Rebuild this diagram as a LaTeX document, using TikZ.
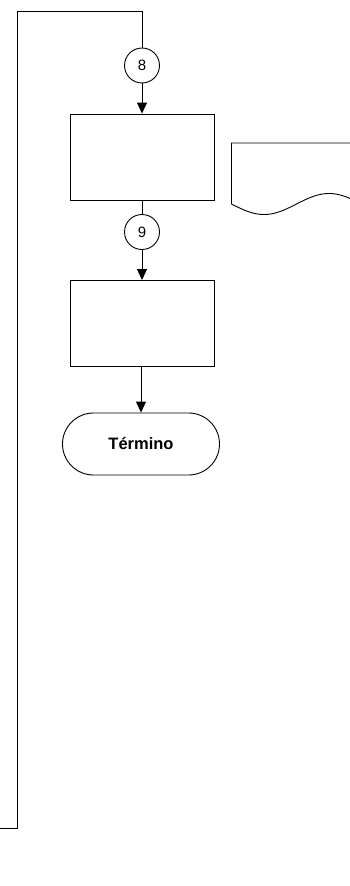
\documentclass[tikz,border=0pt]{standalone}
\usepackage{fontspec}
\setmainfont{Liberation Sans}
\usetikzlibrary{arrows.meta,shapes.misc}
\begin{document}
\begin{tikzpicture}[x=1pt,y=-1pt,
  line width=0.9pt,
  flow/.style={-{Triangle[length=11pt,width=10pt]}},
  conn/.style={circle,draw,minimum size=35pt,inner sep=0pt,font=\fontsize{15}{17}\selectfont},
  proc/.style={rectangle,draw,minimum width=144pt,minimum height=86pt,inner sep=0pt},
  term/.style={rounded rectangle,draw,minimum width=157pt,minimum height=62pt,inner sep=0pt,font=\bfseries\fontsize{16.5}{19}\selectfont}]
\useasboundingbox (0,0) rectangle (350,886);
\coordinate (tl) at (17,11.5);
\coordinate (tr) at (142,11.5);
\coordinate (bl) at (17,828);
\coordinate (b0) at (0,828);
\node[conn] (c8) at (142,65.5) {8};
\node[proc] (r1) at (142,157) {};
\node[conn] (c9) at (142,232) {9};
\node[proc] (r2) at (142,323.5) {};
\node[term] (t) at (141,444) {Término};
\draw (b0) -- (bl) -- (tl) -- (tr) -- (c8.north);
\draw[flow] (c8.south) -- (r1.north);
\draw (r1.south) -- (c9.north);
\draw[flow] (c9.south) -- (r2.north);
\draw[flow] (r2.south -| t.north) -- (t.north);
\begin{scope}
\clip (0,0) rectangle (350,886);
\draw (361,204) -- (361,143) -- (231.5,143) -- (231.5,204)
  plot[domain=0:130,samples=60,smooth] ({231.5+\x},{204+10.5*sin(\x/130*360)});
\end{scope}
\end{tikzpicture}
\end{document}
